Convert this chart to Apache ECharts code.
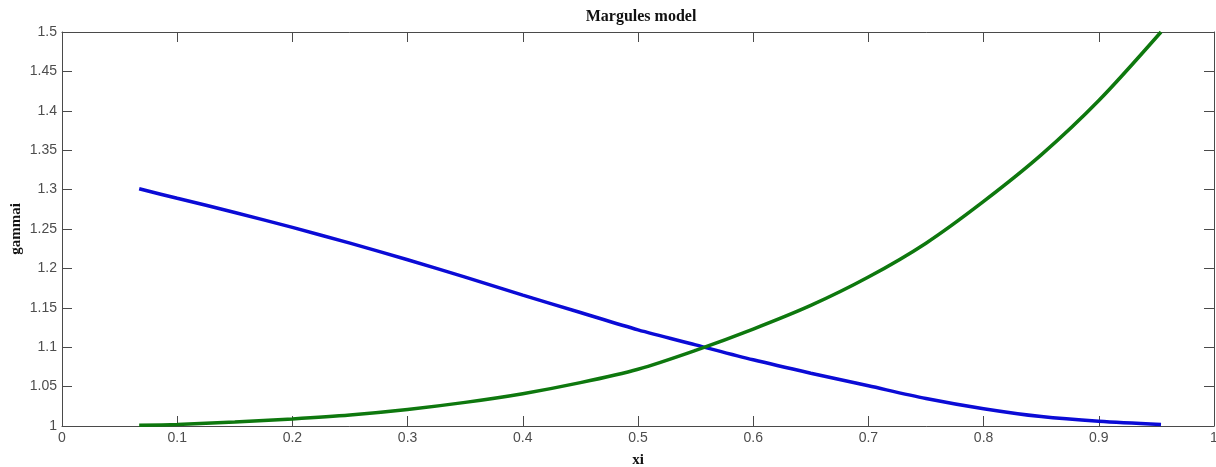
<!DOCTYPE html>
<html>
<head>
<meta charset="utf-8">
<script src="https://cdn.jsdelivr.net/npm/echarts@6/dist/echarts.min.js"></script>
<style>
  html, body { margin: 0; padding: 0; background: #fff; }
  #chart { width: 1216px; height: 467px; }
</style>
</head>
<body>
<div id="chart"></div>
<script>
// Mole fraction of component i
const xi = [0.067, 0.1, 0.15, 0.2, 0.25, 0.3, 0.35, 0.4, 0.45, 0.5, 0.55, 0.6, 0.65, 0.7, 0.75, 0.8, 0.85, 0.9, 0.954];
// Activity coefficients (Margules model)
const gamma1 = [1.301, 1.289, 1.271, 1.252, 1.232, 1.211, 1.189, 1.166, 1.144, 1.122, 1.103, 1.084, 1.067, 1.051, 1.035, 1.022, 1.012, 1.006, 1.002];
const gamma2 = [1.001, 1.002, 1.005, 1.009, 1.014, 1.021, 1.030, 1.041, 1.055, 1.072, 1.096, 1.123, 1.153, 1.189, 1.232, 1.285, 1.344, 1.413, 1.500];

const pairs = (xs, ys) => xs.map((x, i) => [x, ys[i]]);

const axisColor = '#4a4a4a';
const labelStyle = { color: '#4d4d4d', fontFamily: 'Liberation Sans, Arial, sans-serif', fontSize: 14 };
const nameStyle = { color: '#111', fontFamily: 'Liberation Serif, Times New Roman, serif', fontWeight: 'bold', fontSize: 15 };

const chart = echarts.init(document.getElementById('chart'), null, { renderer: 'canvas' });
chart.setOption({
  animation: false,
  backgroundColor: '#fff',
  title: {
    text: 'Margules model',
    left: 636, top: 4, textAlign: 'center',
    textStyle: { color: '#111', fontFamily: 'Liberation Serif, Times New Roman, serif', fontWeight: 'bold', fontSize: 16 }
  },
  grid: { left: 62, right: 2, top: 32, bottom: 41, containLabel: false, outerBoundsMode: 'none' },
  xAxis: [
    {
      type: 'value', position: 'bottom', min: 0, max: 1, interval: 0.1,
      name: 'xi', nameLocation: 'middle', nameGap: 27, nameMoveOverlap: false, nameTextStyle: nameStyle,
      axisLine: { show: true, onZero: false, lineStyle: { color: axisColor, width: 1 } },
      axisTick: { show: true, inside: true, length: 10, lineStyle: { color: axisColor } },
      axisLabel: Object.assign({ margin: 5 }, labelStyle),
      splitLine: { show: false }
    },
    {
      type: 'value', position: 'top', min: 0, max: 1, interval: 0.1,
      axisLine: { show: true, onZero: false, lineStyle: { color: axisColor, width: 1 } },
      axisTick: { show: true, inside: true, length: 10, lineStyle: { color: axisColor } },
      axisLabel: { show: false },
      splitLine: { show: false }
    }
  ],
  yAxis: [
    {
      type: 'value', position: 'left', min: 1, max: 1.5, interval: 0.05,
      name: 'gammai', nameLocation: 'middle', nameGap: 38, nameMoveOverlap: false, nameTextStyle: nameStyle,
      axisLine: { show: true, onZero: false, lineStyle: { color: axisColor, width: 1 } },
      axisTick: { show: true, inside: true, length: 10, lineStyle: { color: axisColor } },
      axisLabel: Object.assign({ margin: 5 }, labelStyle),
      splitLine: { show: false }
    },
    {
      type: 'value', position: 'right', min: 1, max: 1.5, interval: 0.05,
      axisLine: { show: true, onZero: false, lineStyle: { color: axisColor, width: 1 } },
      axisTick: { show: true, inside: true, length: 10, lineStyle: { color: axisColor } },
      axisLabel: { show: false },
      splitLine: { show: false }
    }
  ],
  series: [
    {
      name: 'gamma1', type: 'line', smooth: 0.3, showSymbol: false,
      xAxisIndex: 0, yAxisIndex: 0,
      data: pairs(xi, gamma1),
      lineStyle: { color: '#0b0bd6', width: 3.5 }
    },
    {
      name: 'gamma2', type: 'line', smooth: 0.3, showSymbol: false,
      xAxisIndex: 0, yAxisIndex: 0,
      data: pairs(xi, gamma2),
      lineStyle: { color: '#0e780e', width: 3.5 }
    }
  ]
});
</script>
</body>
</html>
